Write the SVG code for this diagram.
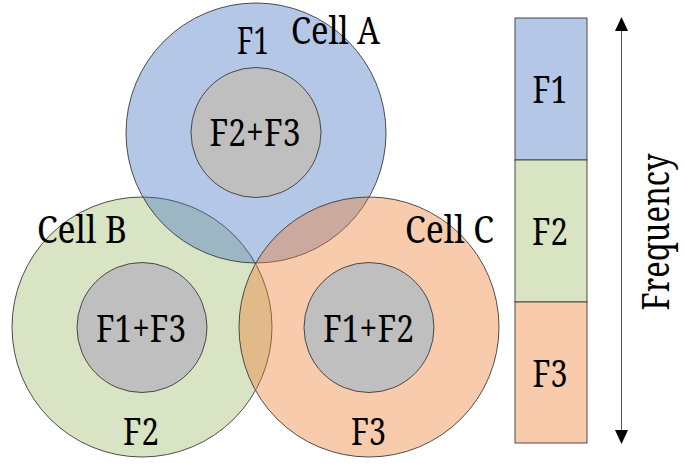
<svg xmlns="http://www.w3.org/2000/svg" width="685" height="469" viewBox="0 0 685 469">
<style>
.cell{stroke:#3a3a3a;stroke-width:0.9;fill-opacity:0.4}
.core{fill:#bfbfbf;stroke:#3a3a3a;stroke-width:0.9}
.t{font-family:"Noto Serif","Liberation Serif",serif;font-size:38px;fill:#000;text-anchor:middle}
.bar{stroke:#3a3a3a;stroke-width:0.9}
</style>
<defs>
<marker id="ah" viewBox="0 0 14 14" refX="13" refY="7" markerWidth="14" markerHeight="14" markerUnits="userSpaceOnUse" orient="auto-start-reverse">
<path d="M0,0.5 L14,7 L0,13.5 Z" fill="#000"/>
</marker>
</defs>
<rect width="685" height="469" fill="#fff"/>
<g id="cellB">
<circle class="cell" cx="142" cy="327" r="130" fill="#9ebb69"/>
</g>
<g id="cellA">
<circle class="cell" cx="256" cy="133" r="130" fill="#4472c4"/>
</g>
<g id="cellC">
<circle class="cell" cx="369" cy="327" r="130" fill="#ed7d31"/>
</g>
<g id="coreA">
<circle class="core" cx="256" cy="132.5" r="65"/>
<text class="t" x="255" y="146" textLength="91" lengthAdjust="spacingAndGlyphs">F2+F3</text>
<text class="t" x="253" y="54" textLength="32" lengthAdjust="spacingAndGlyphs">F1</text>
<text class="t" x="335.5" y="44" textLength="89" lengthAdjust="spacingAndGlyphs">Cell A</text>
</g>
<g id="coreB">
<circle class="core" cx="142" cy="327.5" r="65"/>
<text class="t" x="141" y="342" textLength="90" lengthAdjust="spacingAndGlyphs">F1+F3</text>
<text class="t" x="141" y="445" textLength="36" lengthAdjust="spacingAndGlyphs">F2</text>
<text class="t" x="82" y="243" textLength="90" lengthAdjust="spacingAndGlyphs">Cell B</text>
</g>
<g id="coreC">
<circle class="core" cx="369" cy="327.5" r="65"/>
<text class="t" x="368.5" y="342" textLength="91" lengthAdjust="spacingAndGlyphs">F1+F2</text>
<text class="t" x="368.5" y="445" textLength="35" lengthAdjust="spacingAndGlyphs">F3</text>
<text class="t" x="449.5" y="243" textLength="89" lengthAdjust="spacingAndGlyphs">Cell C</text>
</g>
<g id="bandF1">
<rect class="bar" x="515" y="18" width="72" height="142" fill="#b4c7e7"/>
<text class="t" x="550" y="103" textLength="35" lengthAdjust="spacingAndGlyphs">F1</text>
</g>
<g id="bandF2">
<rect class="bar" x="515" y="160" width="72" height="142" fill="#d9e4c3"/>
<text class="t" x="550" y="245" textLength="36" lengthAdjust="spacingAndGlyphs">F2</text>
</g>
<g id="bandF3">
<rect class="bar" x="515" y="302" width="72" height="141" fill="#f8cbad"/>
<text class="t" x="550" y="387" textLength="35" lengthAdjust="spacingAndGlyphs">F3</text>
</g>
<g id="connectors">
<line x1="621.5" y1="18" x2="621.5" y2="443" stroke="#555" stroke-width="1" marker-start="url(#ah)" marker-end="url(#ah)"/>
</g>
<g id="freqLabel">
<text class="t" transform="translate(669,232) rotate(-90)" x="0" y="0" textLength="157" lengthAdjust="spacingAndGlyphs">Frequency</text>
</g>
</svg>
